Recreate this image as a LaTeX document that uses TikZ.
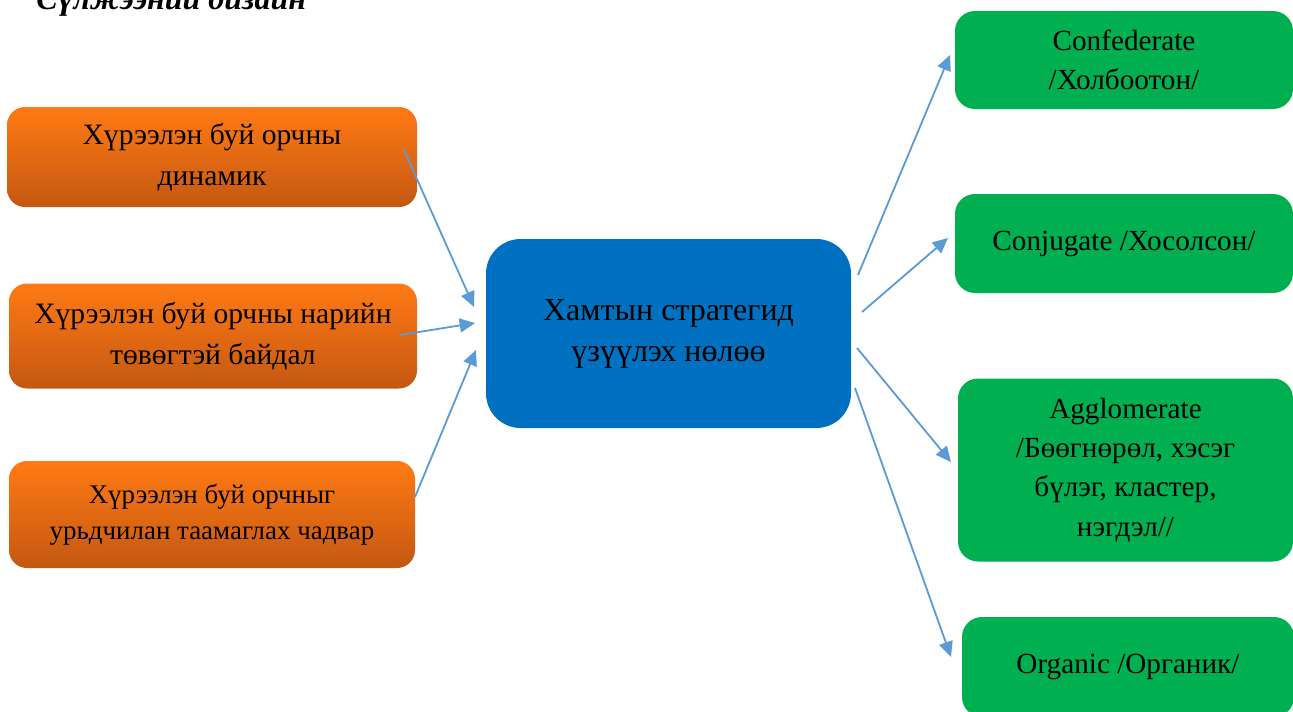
\documentclass[tikz,border=0pt]{standalone}
\usepackage{fontspec}
\setmainfont{Liberation Serif}
\usetikzlibrary{arrows.meta}
\definecolor{arrowblue}{RGB}{91,155,213}
\definecolor{boxblue}{RGB}{0,112,192}
\definecolor{boxgreen}{RGB}{0,176,80}
\definecolor{orangetop}{RGB}{255,122,20}
\definecolor{orangebot}{RGB}{196,88,18}
\tikzset{
  px/.style={x=0.75pt,y=-0.75pt},
  obox/.style={rectangle,rounded corners=13.5pt,top color=orangetop,bottom color=orangebot,
    draw=none,inner sep=0pt,align=center,font=\fontsize{22.2}{30.75}\selectfont},
  gbox/.style={rectangle,rounded corners=15pt,fill=boxgreen,draw=none,inner sep=0pt,
    align=center,font=\fontsize{21.9}{29.5}\selectfont},
  bbox/.style={rectangle,rounded corners=26pt,fill=boxblue,draw=none,inner sep=0pt,
    align=center,font=\fontsize{24}{30.75}\selectfont},
  conn/.style={draw=arrowblue,line width=1.35pt,-{Triangle[length=11.5pt,width=10.5pt]}}
}
\begin{document}
\begin{tikzpicture}[px]
\clip (0,0) rectangle (1293,711);
\fill[white] (0,0) rectangle (1293,711);
\node[anchor=base west,inner sep=0pt,font=\fontsize{24}{28}\selectfont\bfseries\itshape] (title) at (36,9) {Сүлжээний дизайн};

\node[obox,minimum width=410*0.75pt,minimum height=100*0.75pt] (o1) at (212,157) {Хүрээлэн буй орчны\\динамик};
\node[obox,minimum width=408*0.75pt,minimum height=105*0.75pt] (o2) at (213,336) {Хүрээлэн буй орчны нарийн\\төвөгтэй байдал};
\node[obox,minimum width=406*0.75pt,minimum height=107*0.75pt,font=\fontsize{20.2}{27}\selectfont] (o3) at (212,514.5) {Хүрээлэн буй орчныг\\урьдчилан таамаглах чадвар};

\node[bbox,minimum width=365*0.75pt,minimum height=189*0.75pt] (c) at (668.5,333.5) {Хамтын стратегид\\үзүүлэх нөлөө};

\node[gbox,minimum width=338*0.75pt,minimum height=98*0.75pt] (g1) at (1124,60) {Confederate\\/Холбоотон/};
\node[gbox,minimum width=338*0.75pt,minimum height=99*0.75pt] (g2) at (1124,243.5) {Conjugate /Хосолсон/};
\node[gbox,minimum width=335*0.75pt,minimum height=183*0.75pt] (g3) at (1125.5,470) {Agglomerate\\/Бөөгнөрөл, хэсэг\\бүлэг, кластер,\\нэгдэл//};
\node[gbox,minimum width=332*0.75pt,minimum height=100*0.75pt] (g4) at (1128,667) {Organic /Органик/};

\coordinate (o1s) at (404,150);
\coordinate (o2s) at (400,335);
\coordinate (o3s) at (415,497);
\coordinate (ci1) at (474,307);
\coordinate (ci2) at (475,323);
\coordinate (ci3) at (476,350);
\coordinate (co1) at (858,275);
\coordinate (co2) at (862,312);
\coordinate (co3) at (857,348);
\coordinate (co4) at (855,388);
\coordinate (g1e) at (950,55);
\coordinate (g2e) at (948,238);
\coordinate (g3e) at (951,462);
\coordinate (g4e) at (951,657);

\draw[conn] (o1s) -- (ci1);
\draw[conn] (o2s) -- (ci2);
\draw[conn] (o3s) -- (ci3);
\draw[conn] (co1) -- (g1e);
\draw[conn] (co2) -- (g2e);
\draw[conn] (co3) -- (g3e);
\draw[conn] (co4) -- (g4e);
\end{tikzpicture}
\end{document}
